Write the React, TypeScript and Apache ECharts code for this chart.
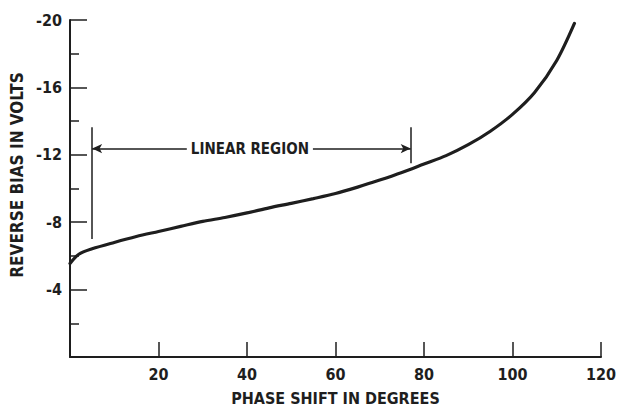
import React, { useEffect, useRef } from "react";
import * as echarts from "echarts";

const phaseShift = [0, 2, 5, 10, 15, 20, 25, 30, 35, 40, 45, 50, 55, 60, 65, 70, 75, 80, 85, 90, 95, 100, 105, 110, 114];
const reverseBias = [-5.55, -6.1, -6.42, -6.8, -7.15, -7.45, -7.75, -8.05, -8.28, -8.55, -8.85, -9.12, -9.4, -9.7, -10.08, -10.5, -10.95, -11.45, -11.95, -12.6, -13.4, -14.4, -15.7, -17.6, -19.8];
const linearStart = 5;
const linearEnd = 77;
const arrowLevel = -12.37;
const xTicks = [20, 40, 60, 80, 100, 120];
const yTicks = [-4, -8, -12, -16, -20];

const FONT = "'DejaVu Sans Condensed', 'DejaVu Sans', sans-serif";
const INK = "#1e1e1e";

export default function App() {
  const ref = useRef<HTMLDivElement>(null);
  useEffect(() => {
    document.body.style.margin = "0";
    const chart = echarts.init(ref.current!, null, { renderer: "svg" });
    const data = phaseShift.map((x, i) => [x, reverseBias[i]]);
    chart.setOption({
      animation: false,
      backgroundColor: "#ffffff",
      grid: { left: 70, right: 17, top: 20, bottom: 45 },
      xAxis: {
        type: "value",
        min: 0,
        max: 120,
        interval: 20,
        name: "PHASE SHIFT IN DEGREES",
        nameLocation: "middle",
        nameGap: 33,
        nameTextStyle: { fontFamily: FONT, fontSize: 16, fontWeight: "bold", color: INK },
        axisLine: { onZero: false, lineStyle: { color: INK, width: 2 } },
        axisTick: { inside: true, length: 15, lineStyle: { color: INK, width: 1.5 } },
        axisLabel: {
          margin: 9,
          fontFamily: FONT,
          fontSize: 16,
          fontWeight: "bold",
          color: INK,
          formatter: (v: number) => (xTicks.includes(v) ? String(v) : ""),
        },
        splitLine: { show: false },
      },
      yAxis: {
        type: "value",
        min: -20,
        max: 0,
        interval: 4,
        inverse: true,
        axisLine: { onZero: false, lineStyle: { color: INK, width: 2 } },
        axisTick: { inside: true, length: 17, lineStyle: { color: INK, width: 1.5 } },
        minorTick: { show: true, splitNumber: 2, length: 9, lineStyle: { color: INK, width: 1.5 } },
        axisLabel: {
          margin: 8,
          fontFamily: FONT,
          fontSize: 16,
          fontWeight: "bold",
          color: INK,
          formatter: (v: number) => (yTicks.includes(v) ? "-" + Math.abs(v) : ""),
        },
        splitLine: { show: false },
      },
      graphic: [
        {
          type: "text",
          x: 17,
          y: 175,
          rotation: Math.PI / 2,
          style: {
            text: "REVERSE BIAS IN VOLTS",
            fontFamily: FONT,
            fontSize: 17,
            fontWeight: "bold",
            fill: INK,
            textAlign: "center",
            textVerticalAlign: "middle",
          },
        },
      ],
      series: [
        {
          type: "line",
          data,
          smooth: 0.3,
          showSymbol: false,
          lineStyle: { color: INK, width: 3.2, cap: "round" },
          markLine: {
            silent: true,
            symbol: ["none", "none"],
            label: { show: false },
            lineStyle: { color: INK, width: 1.5, type: "solid" },
            data: [
              [
                { coord: [linearStart, -13.64], symbol: "none" },
                { coord: [linearStart, -7.0], symbol: "none" },
              ],
              [
                { coord: [linearEnd, -13.64], symbol: "none" },
                { coord: [linearEnd, -11.5], symbol: "none" },
              ],
              [
                { coord: [26.4, arrowLevel], symbol: "none" },
                { coord: [linearStart, arrowLevel], symbol: "arrow", symbolSize: [7, 10] },
              ],
              [
                { coord: [54.9, arrowLevel], symbol: "none" },
                { coord: [linearEnd, arrowLevel], symbol: "arrow", symbolSize: [7, 10] },
              ],
            ],
          },
          markPoint: {
            silent: true,
            symbol: "circle",
            symbolSize: 0,
            data: [
              {
                coord: [(26.4 + 54.9) / 2, arrowLevel],
                value: "LINEAR REGION",
                label: {
                  show: true,
                  position: "inside",
                  formatter: "LINEAR REGION",
                  fontFamily: FONT,
                  fontSize: 15,
                  fontWeight: "bold",
                  color: INK,
                },
              },
            ],
          },
        },
      ],
    });
    return () => chart.dispose();
  }, []);
  return (
    <div
      ref={ref}
      style={{ position: "fixed", left: 0, top: 0, width: 619, height: 411, background: "#fff" }}
    />
  );
}
